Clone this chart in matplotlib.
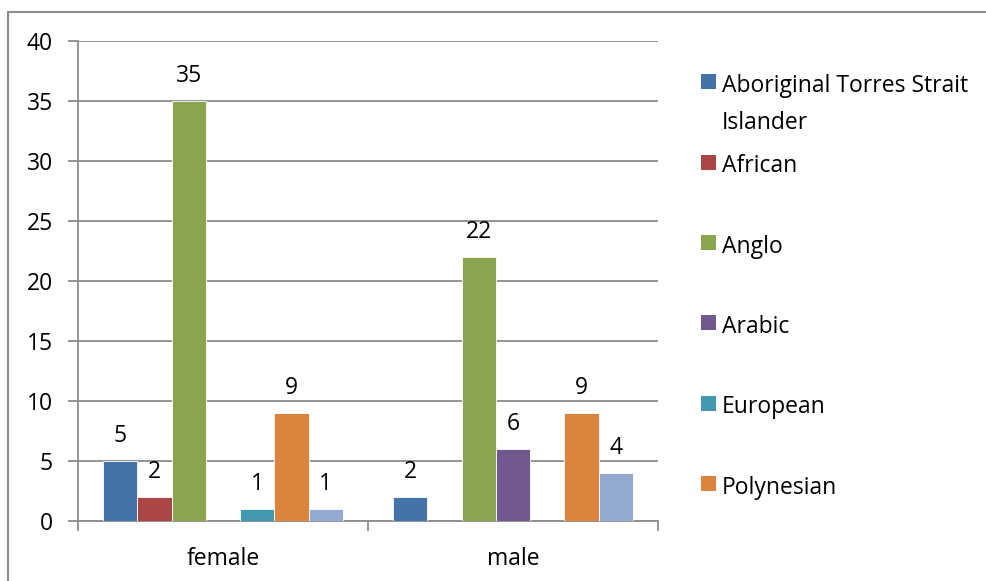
import matplotlib.pyplot as plt
import numpy as np
from matplotlib.patches import Rectangle

plt.rcParams.update({
    "font.family": ["Open Sans", "DejaVu Sans"],
    "font.size": 16.5,
})

# ----------------------------- data ------------------------------------

categories = ["female", "male"]
groups = ["Aboriginal Torres Strait\nIslander", "African", "Anglo", "Arabic",
          "European", "Polynesian", "Other"]
female = [5, 2, 35, None, 1, 9, 1]
male = [2, None, 22, 6, None, 9, 4]

colors = ["#4572A7", "#AA4643", "#89A54E", "#71588F",
          "#4198AF", "#DB843D", "#93A9CF"]
legend_count = 6  # entries shown in the legend box

# ----------------------------- figure ----------------------------------

W, H = 987, 581
fig = plt.figure(figsize=(W / 100, H / 100), dpi=100)
ax = fig.add_axes([78 / W, 60 / H, 580 / W, 480 / H])

# chart frame
fig.patches.append(Rectangle((8 / W, -0.1), 1.2, (H - 12) / H + 0.1,
                             transform=fig.transFigure, fill=False,
                             edgecolor="#8c8c8c", lw=1.5, zorder=0))

n = len(groups)
gap = 1.46
width = 1.0 / (n + gap)
x = np.arange(len(categories))
for i, (name, col) in enumerate(zip(groups, colors)):
    vals = [female[i], male[i]]
    pos = x - 0.5 + width * (gap / 2 + i + 0.5)
    for xp, v in zip(pos, vals):
        if v is None:
            continue
        ax.bar(xp, v, width=width, color=col, edgecolor="white",
               linewidth=0.6, zorder=3)
        ax.annotate(str(v), (xp, v), xytext=(0, 9), textcoords="offset points",
                    ha="center", va="bottom")

ax.set_xlim(-0.5, 1.5)
ax.set_ylim(0, 40)
ax.set_yticks(range(0, 41, 5))
ax.set_xticks([-0.5, 0.5, 1.5])
ax.set_xticklabels([])
ax.set_xticks(x, minor=True)
ax.set_xticklabels(categories, minor=True)
ax.tick_params(axis="x", which="minor", length=0, pad=19)
ax.tick_params(axis="x", which="major", length=7, color="#8c8c8c", width=1.3)
ax.tick_params(axis="y", length=7, color="#8c8c8c", width=1.3, pad=11)

ax.yaxis.grid(True, color="#8c8c8c", lw=1.3, zorder=0)
ax.set_axisbelow(True)
for side in ("top", "right"):
    ax.spines[side].set_visible(False)
for side in ("left", "bottom"):
    ax.spines[side].set_color("#8c8c8c")
    ax.spines[side].set_linewidth(1.3)

# legend: square key aligned with the first line of each label
for i in range(legend_count):
    yc = 1 - (82 + 80.3 * i) / H
    fig.patches.append(Rectangle((701 / W, yc - 7.5 / H), 15 / W, 15 / H,
                                 transform=fig.transFigure,
                                 facecolor=colors[i], edgecolor="none"))
    fig.text(722 / W, yc + 8 / H, groups[i], ha="left", va="top",
             fontsize=16.5, linespacing=1.72)

fig.savefig("out.png", dpi=100)
